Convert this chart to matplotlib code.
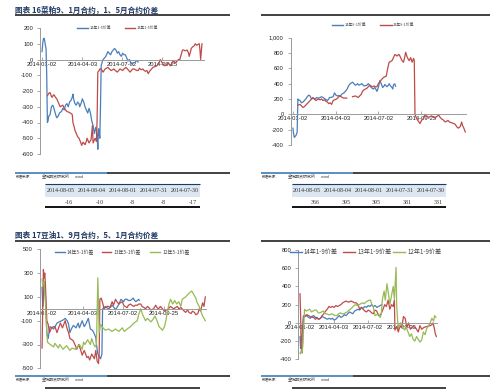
import numpy as np
import matplotlib
matplotlib.use("Agg")
import matplotlib.pyplot as plt
from matplotlib.lines import Line2D
from matplotlib.patches import Rectangle

plt.rcParams['font.family'] = ['Liberation Sans', 'Noto Sans CJK SC']

# x = trading-day index counted from 2014-01-02
date_ticks = [0, 60, 119, 179]
date_labels = ['2014-01-02', '2014-04-03', '2014-07-02', '2014-09-25']

# 图表16 菜粕
rm_14_15 = [(0, 50), (1, 100), (2, 130), (3, 135), (4, 120), (5, 90), (6, 70), (7, -100), (8, -400), (9, -390),
            (10, -360), (12, -350), (14, -300), (16, -290), (17, -300), (19, -330), (21, -360), (22, -370),
            (24, -360), (26, -340), (29, -330), (31, -310), (33, -320), (35, -290), (37, -280), (39, -300),
            (41, -270), (43, -260), (45, -240), (46, -220), (47, -250), (49, -280), (51, -290), (53, -270),
            (55, -280), (56, -300), (58, -280), (60, -250), (62, -270), (64, -300), (66, -320), (68, -340),
            (70, -310), (72, -340), (74, -390), (76, -420), (78, -470), (80, -430), (81, -450), (82, -480),
            (83, -570), (84, -440), (85, -460), (86, -500), (87, -300), (88, -40), (90, -10), (91, 0), (93, 10),
            (95, 20), (97, 40), (98, 50), (100, 40), (102, 30), (104, 50), (106, 60), (108, 70), (110, 60),
            (112, 40), (114, 50), (116, 30), (118, 20), (120, 40), (122, 30), (124, 30), (126, 10), (128, -10),
            (130, 0), (132, -20), (134, -30), (136, -20), (138, -20), (139, -17), (140, -8), (141, -8),
            (142, -10), (143, -16)]
rm_13_15 = [(8, -230), (10, -215), (12, -210), (14, -235), (15, -240), (17, -225), (18, -225), (20, -240),
            (22, -250), (24, -270), (27, -300), (29, -295), (31, -290), (33, -310), (35, -320), (37, -330),
            (40, -335), (42, -340), (44, -345), (45, -350), (46, -400), (48, -430), (49, -450), (51, -470),
            (53, -490), (55, -500), (57, -520), (59, -545), (61, -525), (63, -535), (64, -540), (66, -520),
            (67, -500), (69, -520), (70, -530), (72, -515), (73, -510), (75, -420), (76, -530), (78, -510),
            (79, -500), (81, -520), (82, -370), (83, -80), (85, -70), (86, -60), (88, -60), (90, -75), (91, -80),
            (93, -65), (94, -60), (96, -55), (98, -50), (100, -60), (103, -70), (105, -65), (107, -60),
            (109, -70), (112, -80), (114, -70), (116, -60), (118, -65), (120, -70), (122, -60), (125, -50),
            (127, -60), (129, -70), (131, -80), (133, -70), (135, -60), (137, -60), (139, -65), (141, -70),
            (143, -70), (145, -55), (146, -60), (148, -65), (150, -60), (152, -70), (154, -75), (156, -70),
            (158, -90), (160, -75), (163, -60), (165, -50), (168, -45), (171, -40), (174, -20), (176, 0),
            (178, -15), (180, -30), (183, -40), (186, -30), (188, -20), (190, -35), (191, -40), (193, -25),
            (195, -10), (197, -15), (199, -20), (201, -10), (203, 0), (205, 0), (207, 30), (209, 60), (211, 60),
            (213, 55), (215, 58), (216, 60), (218, 40), (219, 20), (221, 50), (222, 70), (224, 80), (226, 85),
            (228, 100), (230, 90), (232, 95), (234, 100), (235, 60), (236, 0), (238, 100)]

rm_14_91 = [(0, -180), (1, -250), (2, -300), (3, -290), (4, -280), (5, -260), (6, -230), (7, 200), (8, 190),
            (10, 180), (12, 150), (14, 160), (16, 180), (18, 200), (20, 230), (22, 250), (24, 240), (26, 200),
            (28, 210), (31, 200), (33, 220), (36, 210), (38, 220), (40, 230), (42, 220), (45, 200), (48, 180),
            (50, 200), (51, 220), (53, 220), (56, 230), (58, 280), (60, 250), (62, 240), (64, 245), (66, 240),
            (68, 260), (69, 270), (71, 280), (73, 300), (75, 320), (76, 340), (78, 380), (80, 400), (83, 420),
            (85, 400), (87, 380), (89, 390), (90, 400), (92, 380), (94, 390), (96, 400), (98, 380), (99, 370),
            (101, 375), (103, 380), (105, 400), (107, 380), (109, 350), (112, 330), (114, 350), (116, 320),
            (117, 300), (119, 350), (121, 440), (123, 400), (125, 350), (127, 370), (128, 390), (130, 370),
            (131, 360), (133, 380), (134, 400), (136, 370), (138, 350), (139, 331), (140, 381), (141, 395),
            (142, 395), (143, 366)]
rm_13_91 = [(7, 120), (8, 125), (10, 130), (12, 110), (14, 90), (16, 100), (19, 130), (21, 150), (24, 180),
            (26, 200), (28, 220), (30, 200), (32, 180), (35, 200), (38, 190), (40, 200), (42, 180), (44, 190),
            (46, 170), (48, 160), (50, 140), (52, 150), (54, 130), (56, 180), (58, 190), (61, 200), (63, 220),
            (65, 240), (67, 230), (69, 220), (71, 210), (73, 215), (75, 210), (76, np.nan), (83, 230), (85, 235),
            (87, 240), (89, 230), (91, 220), (93, 240), (95, 260), (97, 300), (99, 320), (101, 330), (103, 340),
            (105, 360), (107, 380), (109, 370), (111, 360), (113, 370), (115, 360), (117, 360), (119, 400),
            (121, 420), (123, 450), (125, 470), (126, 480), (128, 490), (130, 500), (132, 600), (134, 680),
            (136, 690), (138, 700), (140, 740), (142, 780), (144, 770), (145, 760), (147, 780), (148, 780),
            (150, 740), (152, 700), (154, 680), (156, 760), (157, 810), (159, 750), (160, 730), (162, 700),
            (164, 740), (166, 680), (168, 730), (169, 700), (170, 0), (172, -50), (174, -80), (177, -120),
            (179, -80), (182, -50), (184, 0), (186, -20), (189, -40), (191, -30), (193, -20), (196, -40),
            (198, -50), (200, -30), (203, -10), (205, -40), (207, -60), (209, -70), (212, -100), (214, -90),
            (216, -80), (218, -100), (221, -110), (224, -120), (226, -130), (228, -160), (230, -180),
            (233, -160), (235, -100), (236, -140), (238, -180), (240, -230)]

# 图表17 豆油
y_14_51 = [(0, 180), (1, 20), (2, 100), (3, 230), (5, 100), (7, -200), (9, -250), (11, -170), (12, -150),
           (15, -160), (17, -170), (20, -140), (22, -120), (25, -110), (29, -100), (32, -90), (34, -80),
           (37, -100), (39, -130), (41, -200), (43, -170), (46, -140), (48, -150), (50, -160), (53, -120),
           (55, -160), (57, -130), (59, -100), (62, -150), (65, -120), (68, -80), (71, -170), (74, -180),
           (76, -200), (79, -240), (80, -300), (82, -380), (84, -400), (86, -420), (88, -380), (89, 0), (91, 10),
           (93, 20), (95, 10), (98, 0), (100, 10), (103, 30), (106, 10), (108, -10), (111, 20), (113, 40),
           (116, 80), (118, 70), (120, 60), (122, 80), (125, 80), (127, 70), (130, 70), (132, 80), (134, 90),
           (136, 70), (138, 60), (140, 70), (142, 80), (143, 70)]
y_13_51 = [(0, -330), (1, 0), (2, 330), (3, 260), (4, 300), (5, 200), (7, -100), (9, -130), (11, -200),
           (14, -160), (17, -150), (19, -150), (22, -200), (25, -150), (27, -120), (30, -160), (32, -130),
           (34, -100), (37, -170), (39, -200), (41, -250), (44, -260), (46, -270), (49, -310), (51, -340),
           (54, -300), (57, -350), (59, -390), (62, -350), (64, -380), (66, -410), (68, -400), (70, -430),
           (73, -380), (75, -400), (77, -420), (79, -350), (81, -440), (83, -460), (84, -370), (85, 80), (87, 90),
           (88, 70), (90, 30), (91, 0), (93, 10), (96, 20), (98, 20), (100, 10), (103, 60), (105, 30), (108, 80),
           (110, 60), (113, 40), (115, 50), (118, 60), (120, 30), (122, 20), (125, 10), (127, 30), (130, 40),
           (132, 30), (135, 20), (137, 30), (140, 30), (142, 40), (145, 40), (147, 20), (150, 10), (152, 0),
           (155, 20), (157, 10), (160, -10), (162, -5), (164, 0), (167, 30), (169, 10), (171, 0), (174, 20),
           (177, 0), (180, -20), (182, -10), (185, -10), (187, 10), (189, 20), (191, 10), (194, 0), (196, 10),
           (199, 20), (201, 0), (204, 10), (206, 0), (209, -20), (211, -30), (214, -10), (216, -30), (219, -40),
           (221, -20), (224, -30), (226, -50), (229, -40), (231, 0), (233, -20), (236, 50), (238, 20), (240, 100)]
y_12_51 = [(0, 250), (1, 200), (3, 230), (5, 50), (7, -200), (8, -280), (12, -300), (17, -320), (19, -290),
           (24, -330), (26, -300), (31, -340), (36, -310), (41, -350), (44, -330), (49, -340), (52, -320),
           (55, -300), (59, -340), (61, -280), (63, -300), (67, -260), (71, -300), (73, -250), (76, -300),
           (78, -320), (80, -300), (82, 260), (84, -200), (86, -130), (88, -150), (93, -180), (98, -170),
           (103, -190), (108, -170), (113, -190), (118, -160), (121, -190), (125, -170), (130, -150),
           (135, -120), (140, -100), (142, -50), (145, 0), (148, -50), (152, -100), (155, -80), (160, -110),
           (163, -90), (166, -60), (169, -100), (172, -150), (177, -180), (180, -150), (182, -100), (185, 0),
           (187, 50), (189, 80), (192, 40), (195, 70), (198, 40), (201, 60), (204, 20), (206, 80), (211, 100),
           (216, 130), (220, 150), (223, 120), (226, 90), (228, 50), (231, 20), (234, -30), (236, -60), (240, -100)]

y_14_19 = [(0, -150), (1, -280), (2, -200), (4, -100), (6, 80), (9, 70), (12, 80), (15, 60), (18, 50), (21, 70),
           (24, 80), (27, 60), (30, 60), (33, 40), (36, 50), (39, 70), (42, 60), (45, 50), (48, 40), (51, 50),
           (54, 40), (57, 50), (60, 30), (63, 40), (66, 60), (69, 80), (72, 60), (75, 70), (78, 90), (81, 80),
           (84, 100), (87, 120), (90, 110), (93, 100), (96, 130), (99, 140), (102, 150), (105, 140), (108, 170),
           (111, 160), (114, 180), (117, 170), (120, 190), (123, 180), (126, 200), (129, 180), (132, 190),
           (135, 170), (138, 180), (141, 190), (144, 200)]
y_13_19 = [(0, 320), (1, 100), (2, -250), (4, -330), (6, 50), (9, 80), (12, 90), (15, 80), (18, 70), (21, 60),
           (24, 60), (27, 40), (30, 50), (33, 40), (36, 50), (39, 80), (42, 100), (45, 130), (48, 150), (51, 180),
           (54, 170), (57, 180), (60, 170), (63, 190), (66, 180), (69, 190), (72, 200), (75, 220), (78, 230),
           (81, 240), (84, 230), (87, 230), (90, 240), (93, 230), (96, 220), (99, 220), (102, 200), (105, 150),
           (108, 170), (111, 150), (114, 130), (117, 120), (120, 140), (123, 130), (126, 110), (129, 100),
           (132, 140), (135, 130), (138, 80), (141, 80), (144, 120), (146, 150), (149, 200), (152, 180),
           (155, 250), (158, 150), (161, 200), (164, 180), (166, 250), (167, -80), (170, -40), (173, -100),
           (176, -30), (179, -50), (182, 70), (185, 50), (188, -50), (191, 0), (194, -70), (199, -40), (204, -60),
           (208, -100), (211, -30), (214, -70), (218, -50), (223, -40), (229, -30), (232, -20), (234, 0),
           (236, -50), (238, -120), (240, -150)]
y_12_19 = [(0, -330), (1, -340), (2, -300), (4, -320), (6, -100), (8, 150), (11, 130), (14, 140), (17, 150),
           (20, 120), (23, 130), (26, 140), (29, 140), (32, 110), (35, 110), (38, 120), (41, 130), (44, 100),
           (47, 100), (50, 90), (53, 90), (56, 100), (59, 90), (62, 80), (65, 80), (68, 100), (71, 110), (74, 100),
           (77, 100), (80, 110), (83, 120), (86, 140), (89, 150), (92, 170), (95, 190), (98, 200), (101, 190),
           (104, 200), (107, 210), (110, 220), (113, 210), (116, 230), (119, 240), (122, 250), (124, 250),
           (126, 210), (129, 170), (132, 80), (135, 90), (138, 100), (141, 60), (143, 100), (145, 260),
           (148, 350), (150, 250), (153, 430), (156, 300), (158, 200), (161, 300), (164, 400), (166, 260),
           (169, 610), (170, 200), (172, 0), (174, -50), (177, 0), (180, -30), (184, -80), (187, -50), (190, -100),
           (193, -150), (196, -120), (199, -180), (202, -200), (205, -150), (208, -180), (211, -210), (214, -190),
           (217, -100), (220, -130), (223, -60), (226, -30), (229, 0), (232, 50), (235, 20), (237, 80), (239, 60)]

table_dates = ['2014-08-05', '2014-08-04', '2014-08-01', '2014-07-31', '2014-07-30']
table_rm_15 = [-16, -10, -8, -8, -17]
table_rm_91 = [366, 395, 395, 381, 331]

BLUE, RED, GREEN = '#4a7ebb', '#be4b48', '#98b954'
W, H = 499, 389
fig = plt.figure(figsize=(W / 100, H / 100), dpi=100)
fig.patch.set_facecolor('white')


def fx(x):
    return x / W


def fy(y):
    return 1 - y / H


def hline(x0, x1, y, color, lw):
    fig.add_artist(Line2D([fx(x0), fx(x1)], [fy(y), fy(y)], color=color, lw=lw,
                          transform=fig.transFigure, solid_capstyle='butt'))


def panel(x0, x1, y0, y1, ylim, yticks, series, fmt='{:d}'):
    ax = fig.add_axes([fx(x0), fy(y1), fx(x1 - x0), (y1 - y0) / H])
    for pts, c in series:
        xs, ys = zip(*pts)
        ax.plot(xs, ys, color=c, lw=0.9)
    ax.set_xlim(-3, 241)
    ax.set_ylim(*ylim)
    ax.set_yticks(yticks)
    ax.set_yticklabels([fmt.format(v) for v in yticks])
    ax.set_xticks(date_ticks)
    ax.set_xticklabels(date_labels)
    ax.patch.set_alpha(0)
    for s in ['top', 'right']:
        ax.spines[s].set_visible(False)
    ax.spines['bottom'].set_position(('data', 0))
    for s in ['bottom', 'left']:
        ax.spines[s].set_color('#9a9a9a')
        ax.spines[s].set_linewidth(0.7)
    ax.tick_params(axis='y', length=2, width=0.6, color='#9a9a9a', pad=3, labelsize=4.2, labelcolor='#222222')
    ax.tick_params(axis='x', direction='in', length=2, width=0.6, color='#9a9a9a', pad=1.5,
                   labelsize=4.2, labelcolor='#222222')
    return ax


def legend(y, items, size):
    for lx0, lx1, tx, c, label in items:
        fig.add_artist(Line2D([fx(lx0), fx(lx1)], [fy(y), fy(y)], color=c, lw=1.0, transform=fig.transFigure))
        fig.text(fx(tx), fy(y), label, fontsize=size, color='#444444', va='center', ha='left',
                 family=['Noto Sans CJK SC'])


def footer(x0, x1, xb, y):
    hline(x0, xb, y, '#3d7ab8', 1.2)
    hline(xb, x1, y, '#222222', 1.2)
    fig.text(fx(x0 + 1), fy(y + 4), '数据来源：', fontsize=2.5, color='#444444', va='center',
             family=['Noto Sans CJK SC'])
    fig.text(fx(x0 + 27), fy(y + 4), '金瑞期货研究所', fontsize=2.9, color='#444444', va='center',
             family=['Noto Sans CJK SC'])
    fig.text(fx(x0 + 60), fy(y + 4), 'wind', fontsize=2.9, color='#444444', va='center')


def table(x0, x1, values):
    cw = (x1 - x0) / len(values)
    fig.add_artist(Rectangle((fx(x0), fy(197)), fx(x1 - x0), 13 / H, transform=fig.transFigure,
                             facecolor='#dce6f1', edgecolor='none'))
    hline(x0, x1, 184, '#1f3864', 0.8)
    hline(x0, x1, 207, '#111111', 1.4)
    for i, (d, v) in enumerate(zip(table_dates, values)):
        fig.text(fx(x0 + cw * (i + 0.5)), fy(190.5), d, fontsize=4.3, ha='center', va='center',
                 color='#333333', family=['Liberation Serif'])
        fig.text(fx(x0 + cw * (i + 1) - 3), fy(202), str(v), fontsize=4.3, ha='right', va='center',
                 color='#333333', family=['Liberation Serif'])


# titles and frame lines
title_kw = dict(fontsize=5.5, fontweight='bold', color='#1f3864', va='center', family=['Noto Sans CJK SC'])
fig.text(fx(15), fy(10), '图表 16菜粕9、1月合约，1、5月合约价差', **title_kw)
fig.text(fx(15), fy(235.5), '图表 17豆油1、9月合约，5、1月合约价差', **title_kw)
hline(15, 230, 15, '#333333', 1.3)
hline(261, 490, 15, '#333333', 1.3)
hline(15, 230, 240.7, '#333333', 1.3)
hline(261, 490, 240.7, '#333333', 1.3)

panel(40, 204, 28, 154, (-600, 200), list(range(200, -601, -100)),
      [(rm_14_15, BLUE), (rm_13_15, RED)])
panel(290.7, 466, 37.7, 145, (-400, 1000), list(range(1000, -401, -200)),
      [(rm_14_91, BLUE), (rm_13_91, RED)], fmt='{:,}')
panel(40, 206, 249.3, 368.3, (-500, 500), list(range(500, -501, -200)),
      [(y_14_51, BLUE), (y_13_51, RED), (y_12_51, GREEN)])
panel(298.3, 437, 250, 359.3, (-400, 800), list(range(800, -401, -200)),
      [(y_14_19, BLUE), (y_13_19, RED), (y_12_19, GREEN)])

legend(28.3, [(77, 88, 90, BLUE, '14年1-5价差'), (125, 135, 137, RED, '13年1-5价差')], 2.8)
legend(25, [(332, 343, 345, BLUE, '14年9-1价差'), (380, 391.5, 393, RED, '13年9-1价差')], 2.8)
legend(252.3, [(55, 65, 67, BLUE, '14年5-1价差'), (102, 111, 114, RED, '13年5-1价差'),
               (150, 160, 163, GREEN, '12年5-1价差')], 3.5)
legend(252.3, [(290, 302, 303, BLUE, '14年1-9价差'), (343, 355, 357, RED, '13年1-9价差'),
               (393, 405, 408, GREEN, '12年1-9价差')], 4.4)

footer(15, 230, 107, 172.7)
footer(261, 490, 353, 172.7)
footer(15, 230, 107, 375.7)
footer(261, 490, 353, 375.7)

table(45, 200, table_rm_15)
table(291.7, 445.7, table_rm_91)
hline(45, 200, 387.8, '#333333', 1.3)
hline(291.7, 445.7, 387.8, '#333333', 1.3)

fig.savefig('out.png', dpi=100)
